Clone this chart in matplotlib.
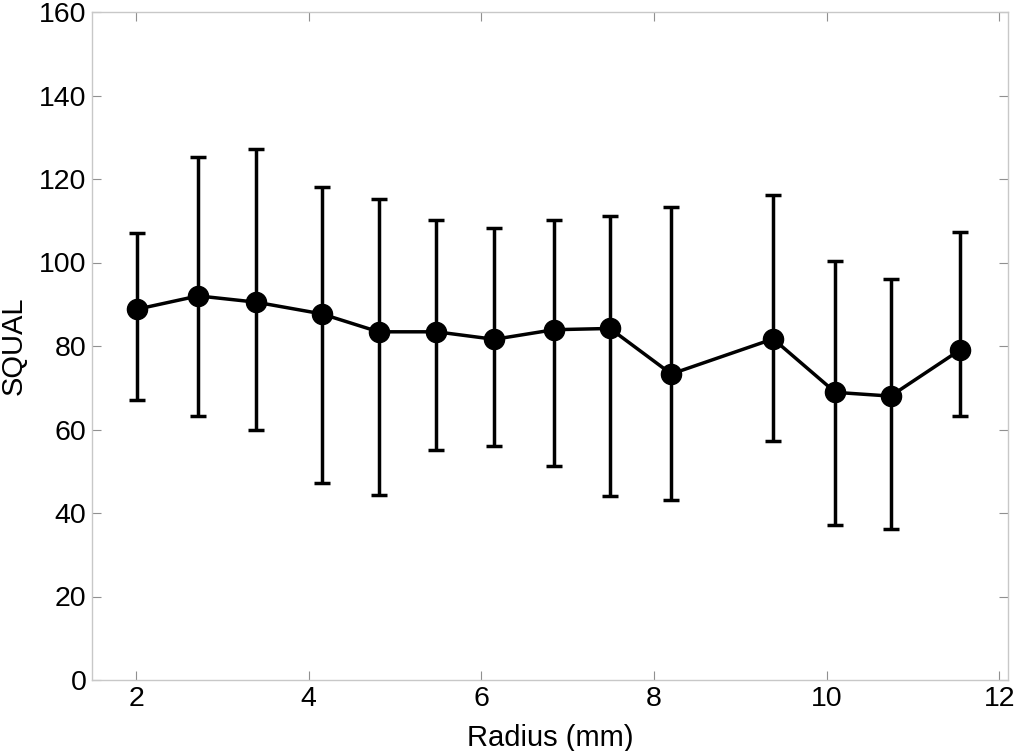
import numpy as np
import matplotlib
matplotlib.use("Agg")
import matplotlib.pyplot as plt

plt.rcParams['font.family'] = ['Liberation Sans', 'DejaVu Sans']

radius = [2.01, 2.72, 3.39, 4.15, 4.81, 5.48, 6.15, 6.84, 7.49, 8.20, 9.38, 10.1, 10.74, 11.54]
squal = [88.8, 92.0, 90.5, 87.7, 83.4, 83.4, 81.6, 83.9, 84.2, 73.3, 81.7, 68.9, 68.0, 79.0]
upper = [107.1, 125.3, 127.2, 118.2, 115.3, 110.2, 108.2, 110.2, 111.1, 113.3, 116.2, 100.3, 96.0, 107.2]
lower = [67.1, 63.2, 60.0, 47.2, 44.3, 55.2, 56.1, 51.3, 44.1, 43.0, 57.2, 37.1, 36.1, 63.2]

x = np.array(radius)
y = np.array(squal)
yerr = [y - np.array(lower), np.array(upper) - y]

fig = plt.figure(figsize=(10.24, 7.51), dpi=100)
ax = fig.add_axes([92/1024, 71/751, 916/1024, 668/751])

ax.errorbar(x, y, yerr=yerr, color='black', lw=2.5, elinewidth=2.5,
            capsize=6, capthick=2.5, marker='o', markersize=14.5,
            markerfacecolor='black', markeredgecolor='black')

ax.set_xlim(1.49, 12.1)
ax.set_ylim(0, 160)
ax.set_xticks([2, 4, 6, 8, 10, 12])
ax.set_yticks(np.arange(0, 161, 20))

for s in ax.spines.values():
    s.set_color('#c8c8c8')
    s.set_linewidth(1.0)
ax.tick_params(direction='in', length=6.5, width=0.8, color='#909090',
               top=True, right=True, labelsize=20.5, labelcolor='black', pad=4)

ax.set_xlabel('Radius (mm)', fontsize=21, labelpad=9)
ax.set_ylabel('SQUAL', fontsize=21, labelpad=8)

fig.savefig('out.png', dpi=100)
